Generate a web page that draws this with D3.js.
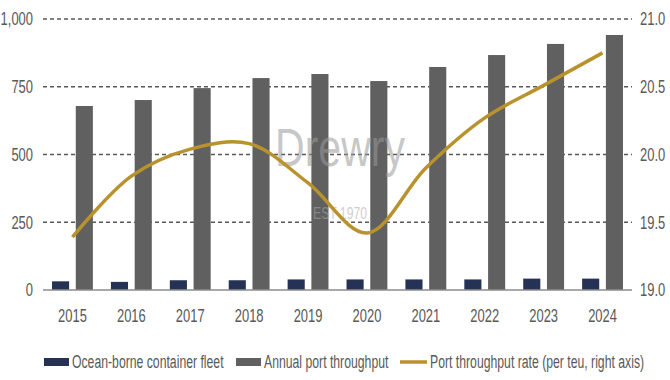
<!DOCTYPE html>
<html><head><meta charset="utf-8">
<script src="https://cdn.jsdelivr.net/npm/d3@7/dist/d3.min.js"></script>
<style>
body{margin:0;background:#fff;}
text{font-family:"Liberation Sans",Arial,sans-serif;}
</style></head><body>
<svg id="c" width="670" height="380"></svg>
<script>
const years = ["2015","2016","2017","2018","2019","2020","2021","2022","2023","2024"];
const fleet = [32,30,36,36,39,39,39,39,42,42];
const throughput = [679,701,745,782,797,771,823,867,908,941];
const rate = [19.39,19.84,20.04,20.08,19.79,19.42,19.90,20.27,20.51,20.75];
const leftTicks = [0,250,500,750,1000];
const rightTicks = [19.0,19.5,20.0,20.5,21.0];
const seriesNames = ["Ocean-borne container fleet","Annual port throughput","Port throughput rate (per teu, right axis)"];

const svg = d3.select("#c");
const m = {l:43, r:38, t:19, b:90};
const W = 670, H = 380;
const x = d3.scaleBand().domain(years).range([m.l, W-m.r]).paddingInner(0).paddingOuter(0);
const yL = d3.scaleLinear().domain([0,1000]).range([290,19]);
const yR = d3.scaleLinear().domain([19,21]).range([290,19]);
const txt = "#595959";
const fs = 18;

// gridlines
svg.append("g").selectAll("line").data(leftTicks.filter(d=>d>0)).join("line")
  .attr("x1",m.l).attr("x2",W-m.r).attr("y1",d=>yL(d)).attr("y2",d=>yL(d))
  .attr("stroke","#595959").attr("stroke-width",1.5).attr("stroke-dasharray","4,3");

// bars
const inner = d3.scaleBand().domain(["f","t"]).range([0,x.bandwidth()]).paddingInner(0.28).paddingOuter(0.38);
const g = svg.append("g");
g.selectAll(".f").data(years).join("rect").attr("class","f")
  .attr("x",d=>x(d)+inner("f")).attr("width",inner.bandwidth())
  .attr("y",(d,i)=>yL(fleet[i])).attr("height",(d,i)=>yL(0)-yL(fleet[i]))
  .attr("fill","#253256");
g.selectAll(".t").data(years).join("rect").attr("class","t")
  .attr("x",d=>x(d)+inner("t")).attr("width",inner.bandwidth())
  .attr("y",(d,i)=>yL(throughput[i])).attr("height",(d,i)=>yL(0)-yL(throughput[i]))
  .attr("fill","#606060");

// watermark (semi-transparent, over bars)
svg.append("text").attr("class","wm").attr("x",340).attr("y",166).attr("text-anchor","middle")
  .attr("font-size",54).attr("fill","#9a9a9a").attr("opacity",0.55).text("Drewry");
svg.append("text").attr("class","wm").attr("x",340).attr("y",219).attr("text-anchor","middle")
  .attr("font-size",16).attr("fill","#a8a8a8").attr("opacity",0.55).text("EST 1970");

// baseline
svg.append("line").attr("x1",m.l).attr("x2",W-m.r).attr("y1",yL(0)).attr("y2",yL(0))
  .attr("stroke","#8c8c8c").attr("stroke-width",1.5);

// line
const line = d3.line().x((d,i)=>x(years[i])+x.bandwidth()/2).y(d=>yR(d)).curve(d3.curveCatmullRom.alpha(0.5));
svg.append("path").datum(rate).attr("d",line).attr("fill","none")
  .attr("stroke","#b8922c").attr("stroke-width",3.5);

// axes labels
const axL = d3.axisLeft(yL).tickValues(leftTicks).tickFormat(d3.format(",")).tickSize(0).tickPadding(10);
const gL = svg.append("g").attr("transform",`translate(${m.l},0)`).call(axL);
const axR = d3.axisRight(yR).tickValues(rightTicks).tickFormat(d3.format(".1f")).tickSize(0).tickPadding(8);
const gR = svg.append("g").attr("transform",`translate(${W-m.r},0)`).call(axR);
const axB = d3.axisBottom(x).tickSize(0).tickPadding(19);
const gB = svg.append("g").attr("transform",`translate(0,${yL(0)})`).call(axB);
[gL,gR,gB].forEach(a=>{a.select(".domain").remove();
  a.selectAll("text").attr("fill",txt).attr("font-size",fs).attr("font-family",null).attr("class","tk");});

// legend
const lg = svg.append("g");
const ly = 362;
lg.append("rect").attr("x",44).attr("y",ly-4).attr("width",25).attr("height",8).attr("fill","#253256");
lg.append("text").attr("class","lg").attr("x",72).attr("y",ly+6).attr("font-size",fs).attr("fill",txt).text(seriesNames[0]);
lg.append("rect").attr("x",236).attr("y",ly-4).attr("width",25).attr("height",8).attr("fill","#606060");
lg.append("text").attr("class","lg").attr("x",264).attr("y",ly+6).attr("font-size",fs).attr("fill",txt).text(seriesNames[1]);
lg.append("line").attr("x1",400).attr("x2",427).attr("y1",ly).attr("y2",ly).attr("stroke","#b8922c").attr("stroke-width",3.5);
lg.append("text").attr("class","lg").attr("x",430).attr("y",ly+6).attr("font-size",fs).attr("fill",txt).text(seriesNames[2]);

// condense all text horizontally (narrow font look)
svg.selectAll("text").each(function(){
  const t = d3.select(this);
  const s = t.classed("wm") ? 0.76 : (t.classed("lg") ? 0.68 : 0.72);
  const xv = +(t.attr("x")||0);
  t.attr("x", xv/s).attr("transform", `scale(${s},1)`);
});
</script></body></html>
